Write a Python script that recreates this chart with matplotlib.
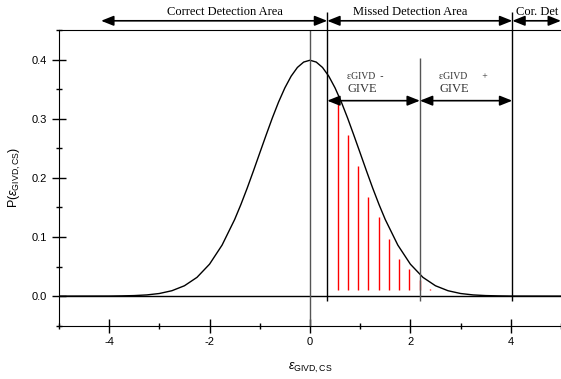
import numpy as np
import matplotlib.pyplot as plt
from matplotlib.ticker import MultipleLocator

plt.rcParams['font.family'] = ['Liberation Sans', 'DejaVu Sans']
plt.rcParams['mathtext.fontset'] = 'custom'
plt.rcParams['mathtext.rm'] = 'Liberation Sans'
plt.rcParams['mathtext.it'] = 'Liberation Sans:italic'
plt.rcParams['axes.unicode_minus'] = False

# density curve
curve_x = [-5.0, -4.0, -3.75, -3.5, -3.25, -3.0, -2.75, -2.5, -2.25, -2.0, -1.75,
           -1.5, -1.375, -1.25, -1.125, -1.0, -0.875, -0.75, -0.625, -0.5, -0.375,
           -0.25, -0.125, 0.0, 0.125, 0.25, 0.375, 0.5, 0.625, 0.75, 0.875, 1.0,
           1.125, 1.25, 1.375, 1.5, 1.75, 2.0, 2.25, 2.5, 2.75, 3.0, 3.25, 3.5,
           3.75, 4.0, 5.0]
curve_y = [0.0, 0.0001, 0.0004, 0.0009, 0.002, 0.0044, 0.0091, 0.0175, 0.0317, 0.054,
           0.0863, 0.1295, 0.155, 0.1826, 0.2119, 0.242, 0.2719, 0.3011, 0.3282,
           0.3521, 0.3719, 0.3867, 0.3958, 0.3989, 0.3958, 0.3867, 0.3719, 0.3521,
           0.3282, 0.3011, 0.2719, 0.242, 0.2119, 0.1826, 0.155, 0.1295, 0.0863,
           0.054, 0.0317, 0.0175, 0.0091, 0.0044, 0.002, 0.0009, 0.0004, 0.0001, 0.0]

# red stems (missed detection mass)
stem_x = [0.55, 0.75, 0.96, 1.16, 1.37, 1.58, 1.78, 1.98, 2.19, 2.40]
stem_top = [0.33, 0.272, 0.22, 0.168, 0.133, 0.097, 0.062, 0.045, 0.028, 0.012]
stem_base = 0.01

# boundaries
b_lo, b_mid, b_hi = 0.344, 2.19, 4.03

fig = plt.figure(figsize=(5.61, 3.79), dpi=100)
ax = fig.add_axes([0.105, 0.1407, 0.895, 0.7801])

ax.plot(curve_x, curve_y, color='black', lw=1)
ax.vlines(stem_x, stem_base, stem_top, color='red', lw=1)
ax.axhline(0, color='black', lw=1)

ax.vlines(0, -0.05, 0.45, color='#555555', lw=1)
ax.vlines(b_lo, -0.008, 0.48, color='black', lw=1, clip_on=False)
ax.vlines(b_mid, -0.008, 0.403, color='#555555', lw=1)
ax.vlines(b_hi, -0.008, 0.48, color='black', lw=1, clip_on=False)

ax.set_xlim(-5, 5)
ax.set_ylim(-0.05, 0.45)

arr = dict(arrowstyle='<|-|>,head_length=0.75,head_width=0.3', color='black', lw=1.2,
           mutation_scale=10, shrinkA=0, shrinkB=0)
y_top = 0.4656
for a, b in [(-4.16, b_lo), (b_lo, b_hi), (b_hi, 5.0)]:
    ax.annotate('', xy=(a, y_top), xytext=(b, y_top), arrowprops=arr, annotation_clip=False)
y_mid = 0.3305
for a, b in [(b_lo, b_mid), (b_mid, b_hi)]:
    ax.annotate('', xy=(a, y_mid), xytext=(b, y_mid), arrowprops=arr)

serif = ['Liberation Serif', 'DejaVu Serif']
ax.text(-1.69, 0.481, 'Correct Detection Area', family=serif, fontsize=9, ha='center', va='center')
ax.text(2.0, 0.481, 'Missed Detection Area', family=serif, fontsize=9, ha='center', va='center')
ax.text(4.1, 0.481, 'Cor. Det', family=serif, fontsize=9, ha='left', va='center', clip_on=False)

ax.text(0.74, 0.372, 'εGIVD  -', family=serif, fontsize=7, ha='left', va='center', color='#333333')
ax.text(0.74, 0.351, 'GIVE', family=serif, fontsize=9, ha='left', va='center', color='#333333')
ax.text(2.58, 0.372, 'εGIVD      +', family=serif, fontsize=7, ha='left', va='center', color='#333333')
ax.text(2.58, 0.351, 'GIVE', family=serif, fontsize=9, ha='left', va='center', color='#333333')

ax.spines['right'].set_visible(False)
ax.xaxis.set_major_locator(MultipleLocator(2))
ax.xaxis.set_minor_locator(MultipleLocator(1))
ax.yaxis.set_major_locator(MultipleLocator(0.1))
ax.yaxis.set_minor_locator(MultipleLocator(0.05))
ax.tick_params(which='major', direction='inout', length=10, width=1, labelsize=8)
ax.tick_params(which='minor', direction='inout', length=5, width=1)
ax.set_yticks([0, 0.1, 0.2, 0.3, 0.4])
ax.set_yticklabels(['0.0', '0.1', '0.2', '0.3', '0.4'])

ax.set_xlabel(r'$\varepsilon_{\mathrm{GIVD,CS}}$', fontsize=9, labelpad=10)
ax.set_ylabel(r'P($\varepsilon_{\mathrm{GIVD,CS}}$)', fontsize=9, labelpad=6)

fig.savefig('out.png', dpi=100)
